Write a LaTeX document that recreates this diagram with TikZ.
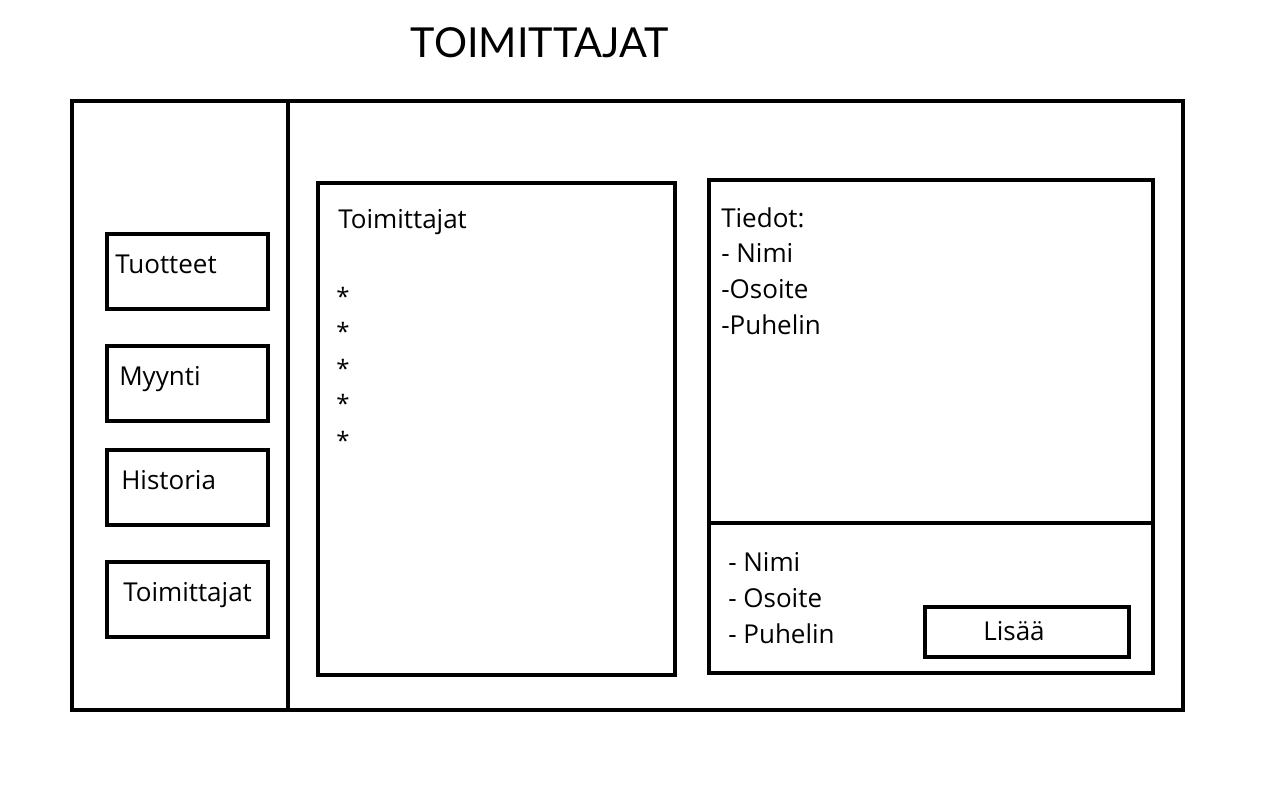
\documentclass[tikz,border=0pt]{standalone}
\usepackage{fontspec}
\setmainfont{Open Sans}
\newfontfamily\titlefont{Lato}
\tikzset{
  lbl/.style={anchor=base west,inner sep=0pt,font=\fontsize{19.5}{23}\selectfont},
  frame/.style={line width=3pt}
}
\begin{document}
\begin{tikzpicture}[x=0.75pt,y=-0.75pt]

\useasboundingbox (0,0) rectangle (1280,800);

\coordinate (A) at (72,101);
\coordinate (B) at (1183,710);

\node[anchor=base,inner sep=0pt,font=\titlefont\fontsize{31}{37}\selectfont] (title) at (540,57){TOIMITTAJAT};

\draw[frame] (A) rectangle (B);
\draw[frame] (288,101)--(288,710);

% valikko
\foreach \t/\y/\x [count=\i] in {Tuotteet/234/115, Myynti/346/119, Historia/450/121, Toimittajat/562/123}{
  \draw[frame] (107,\y) rectangle (268,\y+75);
  \node[lbl] (menu\i) at (\x,\y+39){\t};
}

% lista
\draw[frame] (318,183) rectangle (675,675);
\node[lbl] (list) at (338,228){Toimittajat};
\foreach \y [count=\i] in {305,340,377,412,449}
  \node[lbl,font=\fontsize{18}{22}\selectfont] (item\i) at (336,\y){*};

% tiedot
\draw[frame] (709,180) rectangle (1153,673);
\draw[frame] (709,523)--(1153,523);
\node[lbl] (info) at (721,227){Tiedot:};
\node[lbl] (info1) at (721,262){- Nimi};
\node[lbl] (info2) at (721,298){-Osoite};
\node[lbl] (info3) at (721,334){-Puhelin};

\node[lbl] (new1) at (728,571){- Nimi};
\node[lbl] (new2) at (728,607){- Osoite};
\node[lbl] (new3) at (728,643){- Puhelin};

\draw[frame] (925,607) rectangle (1129,657);
\node[lbl] (add) at (983,640){Lisää};

\end{tikzpicture}
\end{document}
